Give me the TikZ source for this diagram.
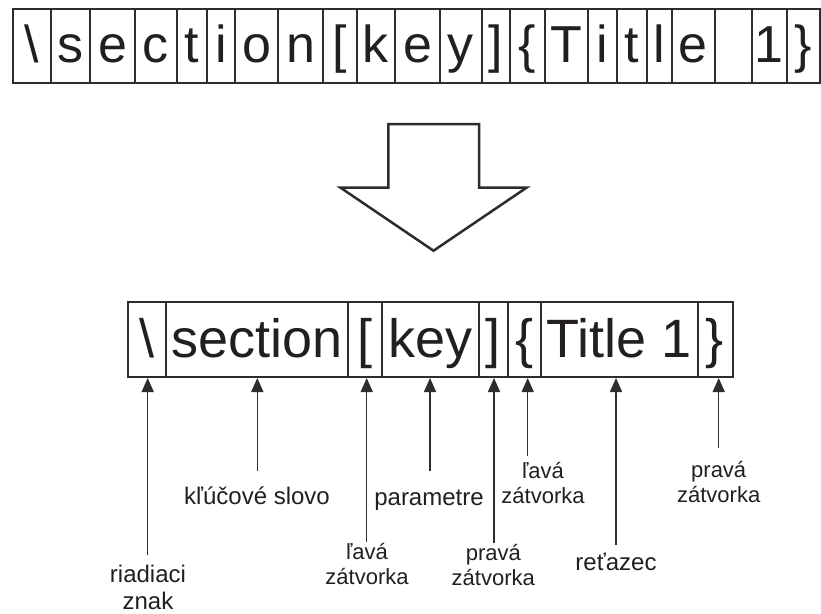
\documentclass[tikz,border=0pt]{standalone}
\usepackage{fontspec}
\setmainfont{Liberation Sans}
\usetikzlibrary{arrows.meta}
\definecolor{ink}{RGB}{35,31,32}
\definecolor{rule}{RGB}{45,45,45}
\tikzset{
  topcell/.style={draw=rule, line width=2pt, inner sep=0pt, minimum height=74pt,
    text=ink, font=\fontsize{52}{60}\selectfont, text height=40pt, text depth=6.6pt},
  botcell/.style={draw=rule, line width=2pt, inner sep=0pt, minimum height=75pt,
    text=ink, font=\fontsize{54}{62}\selectfont, text height=42pt, text depth=5.6pt},
  lbl/.style={text=ink, inner sep=0pt, align=center, anchor=base,
    font=\fontsize{24}{26.5}\selectfont},
  lblsmall/.style={lbl, font=\fontsize{22}{24.5}\selectfont},
  arr/.style={draw=rule, line width=1.5pt, -{Triangle[length=14pt,width=12pt]}},
  bigarrow/.style={draw=rule, line width=2.5pt, fill=white, line join=miter}
}
% one cell of a row: name, left edge, right edge, text
\newcommand\topbox[4]{\node[topcell, minimum width=#3-#2] (#1) at ({(#2+#3)/2},46) {#4};}
\newcommand\botbox[4]{\node[botcell, minimum width=#3-#2] (#1) at ({(#2+#3)/2},339.5) {#4};}
\begin{document}
\begin{tikzpicture}[x=1pt,y=-1pt]
\useasboundingbox (0,0) rectangle (821,613);
\fill[white] (0,0) rectangle (821,613);

% character by character
\topbox{t1}{12.7}{50.7}{\textbackslash}
\topbox{t2}{50.7}{90}{s}
\topbox{t3}{90}{135}{e}
\topbox{t4}{135}{176.7}{c}
\topbox{t5}{176.7}{206.7}{t}
\topbox{t6}{206.7}{235}{i}
\topbox{t7}{235}{278.3}{o}
\topbox{t8}{278.3}{323.3}{n}
\topbox{t9}{323.3}{356.7}{[}
\topbox{t10}{356.7}{395}{k}
\topbox{t11}{395}{440}{e}
\topbox{t12}{440}{481.7}{y}
\topbox{t13}{481.7}{510}{]}
\topbox{t14}{510}{545}{\{}
\topbox{t15}{545}{588.3}{T}
\topbox{t16}{588.3}{616.7}{i}
\topbox{t17}{616.7}{646.7}{t}
\topbox{t18}{646.7}{671.7}{l}
\topbox{t19}{671.7}{715}{e}
\topbox{t20}{715}{751.7}{}
\topbox{t21}{751.7}{786.7}{1}
\topbox{t22}{786.7}{819.8}{\}}

% block arrow
\draw[bigarrow] (388.3,124) -- (479,124) -- (479,187.7) -- (526.5,187.7)
  -- (433.5,250.7) -- (340.5,187.7) -- (388.3,187.7) -- cycle;

% tokens
\botbox{b1}{128.3}{166}{\textbackslash}
\botbox{b2}{166}{348.3}{section}
\botbox{b3}{348.3}{381.7}{[}
\botbox{b4}{381.7}{478.5}{key}
\botbox{b5}{478.5}{507.5}{]}
\botbox{b6}{507.5}{541}{\{}
\botbox{b7}{541}{697.5}{Title 1}
\botbox{b8}{697.5}{732.5}{\}}

% labels (base = baseline of the last line)
\node[lbl] (l1) at (148,609) {riadiaci\\znak};
\node[lbl] (l2) at (257,504) {kľúčové slovo};
\node[lblsmall] (l3) at (367,584) {ľavá\\zátvorka};
\node[lbl] (l4) at (429,505) {parametre};
\node[lblsmall] (l5) at (493.3,585) {pravá\\zátvorka};
\node[lblsmall] (l6) at (543,503) {ľavá\\zátvorka};
\node[lbl] (l7) at (616,570) {reťazec};
\node[lblsmall] (l8) at (718.7,502) {pravá\\zátvorka};

% arrow tails
\coordinate (a1) at (147.7,555);
\coordinate (a2) at (257.3,470.7);
\coordinate (a3) at (366.7,542.3);
\coordinate (a4) at (430,470.7);
\coordinate (a5) at (494,543.3);
\coordinate (a6) at (527.7,456);
\coordinate (a7) at (616,545);
\coordinate (a8) at (718.7,448.3);

\draw[arr] (a1) -- (a1 |- b1.south);
\draw[arr] (a2) -- (a2 |- b2.south);
\draw[arr] (a3) -- (a3 |- b3.south);
\draw[arr] (a4) -- (a4 |- b4.south);
\draw[arr] (a5) -- (a5 |- b5.south);
\draw[arr] (a6) -- (a6 |- b6.south);
\draw[arr] (a7) -- (a7 |- b7.south);
\draw[arr] (a8) -- (a8 |- b8.south);
\end{tikzpicture}
\end{document}
